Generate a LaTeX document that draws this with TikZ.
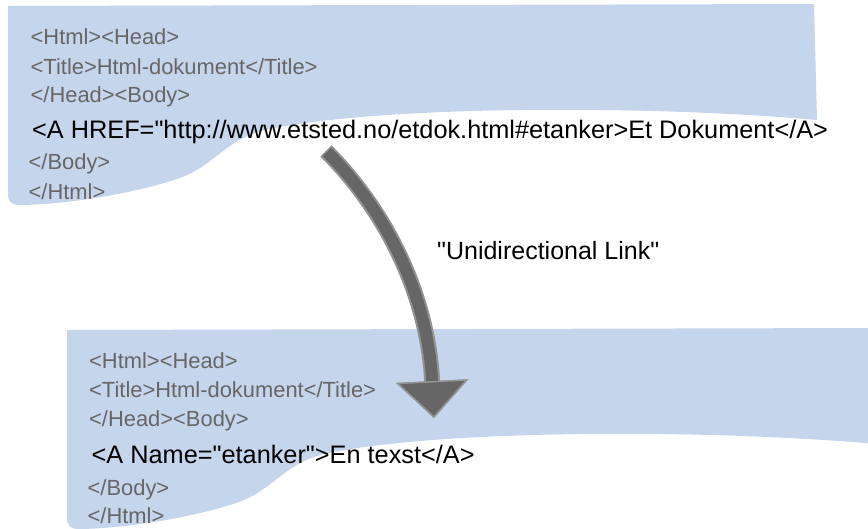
\documentclass[tikz,border=0pt]{standalone}
\usepackage{fontspec}
\setmainfont{Liberation Sans}[Ligatures=TeXOff]
\usepackage{tikz}
\usetikzlibrary{arrows.meta}
\definecolor{paper}{HTML}{C5D5EC}
\definecolor{muted}{HTML}{666666}
\definecolor{shaft}{HTML}{666666}
\definecolor{shaftline}{HTML}{939393}

\tikzset{
  tag/.style={anchor=base west, inner sep=0pt, text=muted, font=\fontsize{21.9}{26}\selectfont},
  link/.style={anchor=base west, inner sep=0pt, text=black, font=\fontsize{25.3}{30}\selectfont},
  linkarrow/.style={-{Triangle[width=72pt,length=37pt,line width=1.5pt,fill=shaft,color=shaftline]}}
}

\begin{document}
\begin{tikzpicture}[x=1pt,y=-1pt]
  \clip (0,0) rectangle (868,528);
  \fill[white] (0,0) rectangle (868,528);

  % two sheets, the second one moved down and right
  \foreach \dx/\dy in {0/0, 59/324}
    \fill[paper, shift={(\dx,\dy)}] (8,6) -- (814,4) -- (817,120)
      .. controls (650,105) and (380,105) .. (265,130)
      .. controls (225,140) and (215,165) .. (180,178)
      .. controls (130,195) and (60,205) .. (18,205)
      .. controls (12,205) and (8,201) .. (8,195) -- cycle;

  % source document
  \node[tag]  (srchead)  at (30.5,44.5)  {<Html><Head>};
  \node[tag]  (srctitle) at (30.5,74)    {<Title>Html-dokument</Title>};
  \node[tag]  (srcbody)  at (30.5,102.5) {</Head><Body>};
  \node[link] (srclink)  at (32,138.3)   {<A HREF="http://www.etsted.no/etdok.html\#etanker>Et Dokument</A>};
  \node[tag]  (srcendb)  at (28.5,169.3) {</Body>};
  \node[tag]  (srcendh)  at (28.5,199.3) {</Html>};

  % target document
  \node[tag]  (dsthead)  at (89,368.3)   {<Html><Head>};
  \node[tag]  (dsttitle) at (89,397.3)   {<Title>Html-dokument</Title>};
  \node[tag]  (dstbody)  at (89,426.7)   {</Head><Body>};
  \node[link] (dstlink)  at (91.5,463.3) {<A Name="etanker">En texst</A>};
  \node[tag]  (dstendb)  at (87.5,495)   {</Body>};
  \node[tag]  (dstendh)  at (87.5,523)   {</Html>};

  \node[link, font=\fontsize{25}{30}\selectfont] (linklabel) at (437,259) {"Unidirectional Link"};

  \coordinate (tail) at (327,152);
  \coordinate (tip) at (434,418);
  \draw[linkarrow, line width=16pt, draw=shaftline, shorten <=-1.5pt]
    (tail) .. controls (390,215) and (428,300) .. (tip);
  \draw[linkarrow, line width=12pt, draw=shaft]
    (tail) .. controls (390,215) and (428,300) .. (tip);
\end{tikzpicture}
\end{document}
